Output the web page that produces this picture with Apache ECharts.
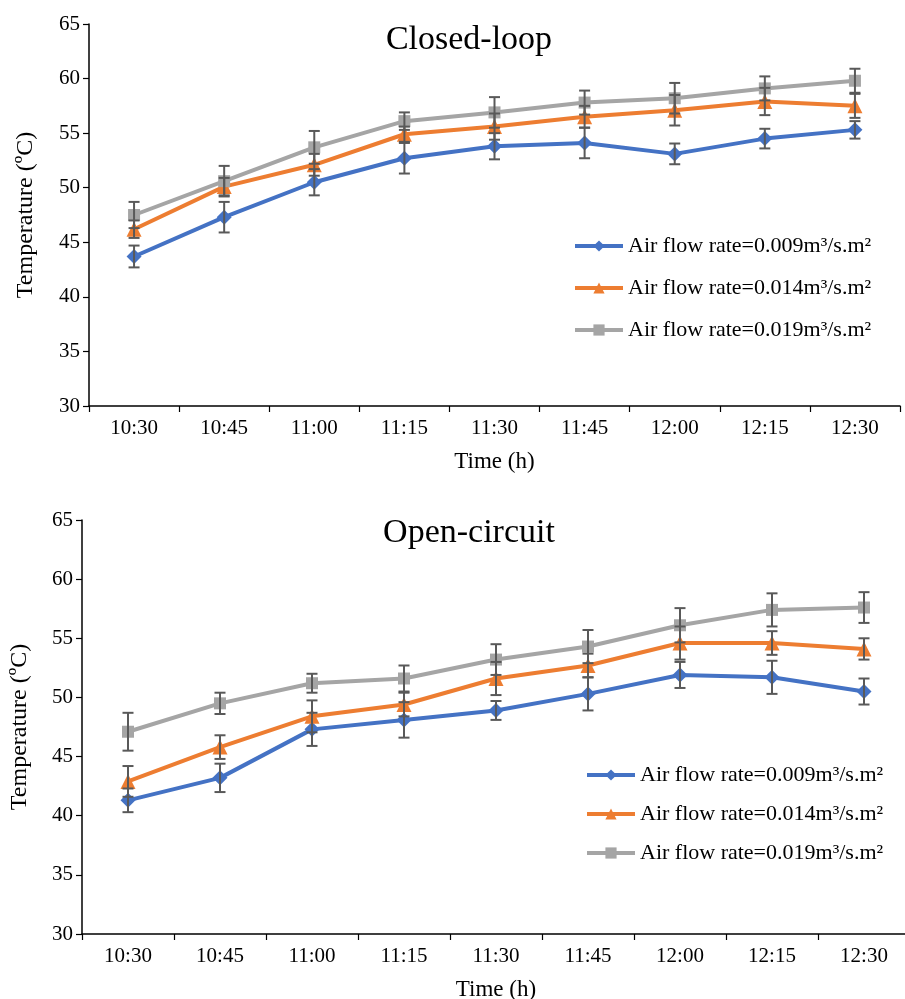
<!DOCTYPE html>
<html><head><meta charset="utf-8">
<script src="https://cdn.jsdelivr.net/npm/echarts@6/dist/echarts.min.js"></script>
<style>html,body{margin:0;padding:0;background:#fff}#c{width:905px;height:999px}</style>
</head><body><div id="c"></div>
<script>
var categories = ['10:30','10:45','11:00','11:15','11:30','11:45','12:00','12:15','12:30'];
var seriesNames = ['Air flow rate=0.009m³/s.m²','Air flow rate=0.014m³/s.m²','Air flow rate=0.019m³/s.m²'];
var closed009 = [43.7, 47.3, 50.5, 52.7, 53.8, 54.1, 53.1, 54.5, 55.3];
var closed014 = [46.2, 50.1, 52.1, 54.9, 55.6, 56.5, 57.1, 57.9, 57.5];
var closed019 = [47.5, 50.6, 53.7, 56.1, 56.9, 57.8, 58.2, 59.1, 59.8];
var closedErr009 = [1.0, 1.4, 1.2, 1.4, 1.2, 1.4, 0.95, 0.9, 0.8];
var closedErr014 = [0.8, 0.8, 1.0, 0.7, 1.2, 1.0, 1.4, 1.25, 1.1];
var closedErr019 = [1.2, 1.4, 1.5, 0.8, 1.4, 1.1, 1.4, 1.1, 1.1];
var open009 = [41.3, 43.2, 47.3, 48.1, 48.9, 50.3, 51.9, 51.7, 50.5];
var open014 = [42.9, 45.8, 48.4, 49.4, 51.6, 52.7, 54.6, 54.6, 54.1];
var open019 = [47.1, 49.5, 51.2, 51.6, 53.2, 54.3, 56.1, 57.4, 57.6];
var openErr009 = [1.0, 1.2, 1.4, 1.5, 0.8, 1.4, 1.1, 1.4, 1.1];
var openErr014 = [1.3, 1.0, 1.35, 1.0, 1.4, 1.0, 1.4, 1.0, 0.9];
var openErr019 = [1.6, 0.9, 0.8, 1.1, 1.3, 1.4, 1.45, 1.4, 1.3];
var yTicks = [30, 35, 40, 45, 50, 55, 60, 65];

var FONT = 'Liberation Serif';
var colors = ['#4472C4', '#ED7D31', '#A5A5A5'];
var symbols = ['diamond', 'triangle', 'rect'];
var symbolSizes = [15, 15, 12];

var chart = echarts.init(document.getElementById('c'), null, {renderer: 'canvas'});

function errData(vals, errs) {
  return vals.map(function (v, i) { return [i, v - errs[i], v + errs[i]]; });
}
function errRender(params, api) {
  var x = api.value(0);
  var lo = api.coord([x, api.value(1)]);
  var hi = api.coord([x, api.value(2)]);
  var hw = 5.5;
  var st = {stroke: '#595959', lineWidth: 2};
  return {type: 'group', children: [
    {type: 'line', shape: {x1: lo[0], y1: lo[1], x2: hi[0], y2: hi[1]}, style: st},
    {type: 'line', shape: {x1: lo[0] - hw, y1: lo[1], x2: lo[0] + hw, y2: lo[1]}, style: st},
    {type: 'line', shape: {x1: hi[0] - hw, y1: hi[1], x2: hi[0] + hw, y2: hi[1]}, style: st}
  ]};
}

function buildSeries(gi, vals, errs) {
  var out = [];
  for (var k = 0; k < 3; k++) {
    out.push({
      type: 'line', name: seriesNames[k], xAxisIndex: gi, yAxisIndex: gi,
      data: vals[k], symbol: symbols[k], symbolSize: symbolSizes[k],
      lineStyle: {color: colors[k], width: 4}, itemStyle: {color: colors[k]},
      z: 2 + k, animation: false
    });
  }
  for (var k2 = 0; k2 < 3; k2++) {
    out.push({
      type: 'custom', xAxisIndex: gi, yAxisIndex: gi, renderItem: errRender,
      data: errData(vals[k2], errs[k2]), z: 10, silent: true, animation: false
    });
  }
  return out;
}

function xAxis(gi) {
  return {
    type: 'category', gridIndex: gi, data: categories, boundaryGap: true,
    axisLine: {lineStyle: {color: '#000', width: 1.5}},
    axisTick: {show: true, alignWithLabel: false, interval: 0, length: 6, lineStyle: {color: '#000', width: 1.2}},
    axisLabel: {color: '#000', fontFamily: FONT, fontSize: 21, margin: 12, interval: 0},
    name: 'Time (h)', nameLocation: 'middle', nameGap: 44,
    nameTextStyle: {color: '#000', fontFamily: FONT, fontSize: 23},
    splitLine: {show: false}
  };
}
function yAxis(gi, gap) {
  return {
    type: 'value', gridIndex: gi, min: yTicks[0], max: yTicks[yTicks.length - 1], interval: 5,
    axisLine: {show: true, lineStyle: {color: '#000', width: 1.5}},
    axisTick: {show: true, length: 6, lineStyle: {color: '#000', width: 1.2}},
    axisLabel: {color: '#000', fontFamily: FONT, fontSize: 21, margin: 9},
    splitLine: {show: false},
    name: 'Temperature (ºC)', nameLocation: 'middle', nameRotate: 90, nameGap: gap,
    nameTextStyle: {color: '#000', fontFamily: FONT, fontSize: 24}
  };
}

function legend(left, top, gap) {
  return {orient: 'vertical', left: left, top: top, padding: 0, itemWidth: 48, itemHeight: 14, itemGap: gap,
    data: seriesNames, lineStyle: {width: 4}, textStyle: {fontFamily: FONT, fontSize: 22, color: '#000', padding: [0, 0, 0, 0]}};
}

var option = {
  backgroundColor: '#fff',
  animation: false,
  title: [
    {text: 'Closed-loop', left: 464, top: 18, textAlign: 'center',
     textStyle: {fontFamily: FONT, fontSize: 34, fontWeight: 'normal', color: '#000'}},
    {text: 'Open-circuit', left: 464, top: 511, textAlign: 'center',
     textStyle: {fontFamily: FONT, fontSize: 34, fontWeight: 'normal', color: '#000'}}
  ],
  grid: [
    {left: 89, right: 5, top: 24, bottom: 593, containLabel: false, outerBoundsMode: 'none'},
    {left: 82, right: -5, top: 520, bottom: 65, containLabel: false, outerBoundsMode: 'none'}
  ],
  legend: [legend(573, 235, 20), legend(585, 764, 17)],
  xAxis: [xAxis(0), xAxis(1)],
  yAxis: [yAxis(0, 51), yAxis(1, 50)],
  series: buildSeries(0, [closed009, closed014, closed019], [closedErr009, closedErr014, closedErr019])
    .concat(buildSeries(1, [open009, open014, open019], [openErr009, openErr014, openErr019]))
};
chart.setOption(option);
</script>
</body></html>
